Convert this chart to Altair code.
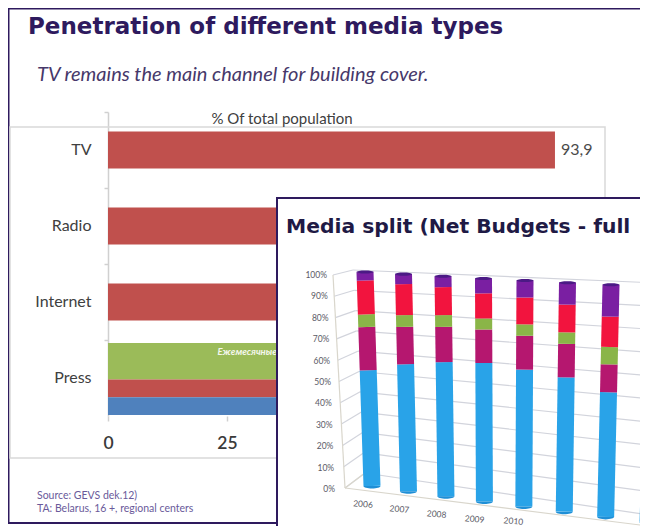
import altair as alt
import pandas as pd

# ---- left chart values (share of population, %)
media = ["TV", "Radio", "Internet", "Press"]
reach_rows = ["TV", "Radio", "Internet"]
reach_values = [93.9, 62.0, 47.0]
reach_labels = ["93,9"]
press_top = ["Ежемесячные"]
press_top_values = [45.0]
press_low = ["Monthly", "Daily"]
press_low_values = [42.0, 38.0]
x_ticks = [0, 25, 50, 75, 100]

# ---- overlay chart values (media split, %)
years = ["2006", "2007", "2008", "2009", "2010", "2011", "2012", "2013"]
split_tv = [54.1, 58.5, 61.0, 62.1, 60.6, 58.7, 53.7, 50.6]
split_press = [20.2, 17.2, 16.0, 15.0, 15.0, 14.6, 12.0, 11.1]
split_radio = [5.9, 5.4, 5.3, 4.9, 5.0, 5.0, 7.5, 6.0]
split_outdoor = [15.8, 14.3, 12.8, 11.3, 11.9, 12.1, 13.1, 16.1]
split_internet = [4.0, 4.6, 4.9, 6.7, 7.5, 9.6, 13.7, 16.2]
levels = [0, 10, 20, 30, 40, 50, 60, 70, 80, 90, 100]

series = {"TV": split_tv, "Press": split_press, "Radio": split_radio,
          "Outdoor": split_outdoor, "Internet": split_internet}
series_colors = ["#29a3e8", "#b5176f", "#8ab548", "#f2143e", "#7a1fa2"]

DARK = "#2e1a5e"
W, H = 632, 518
FONT = "Lato"
HEAD = "DejaVu Sans"

# page-pixel scale used for the page furniture and the 3-D projection
PX = alt.Scale(domain=[8, 8 + W], range=[0, W])
PY = alt.Scale(domain=[8, 8 + H], range=[0, H])
X_PCT = alt.Scale(domain=[0, 100], range=[100, 576])
Y_BAND = alt.Scale(domain=media, range=[104, 408], paddingInner=0, paddingOuter=0)


# perspective of the 3-D plot: where year i and percent p land on the page
def proj(i, p):
    xt, xb = 365 + 38 * i + 0.5 * i * i, 372 + 36 * i + 0.49 * i * i
    yt, yb = 272 + 2.14 * i, 486 + 5.14 * i
    return xb + (xt - xb) * p / 100, yb + (yt - yb) * p / 100


def box(x0, x1, y0, y1, **kw):
    return alt.Chart(pd.DataFrame({"a": [0]})).mark_rect(**kw).encode(
        x=alt.value(x0 - 8), x2=alt.value(x1 - 8), y=alt.value(y0 - 8), y2=alt.value(y1 - 8))


def label(text, x, y, **kw):
    return alt.Chart(pd.DataFrame({"t": [text]})).mark_text(baseline="middle", **kw).encode(
        x=alt.value(x - 8), y=alt.value(y - 8), text="t:N")


# ---- left panel
frame = box(8.5, 720, 8.5, 523, fill="transparent", stroke=DARK, strokeWidth=2)
inner = box(10, 605, 127, 458, fill="transparent", stroke="#d9d9d9", strokeWidth=1.5)

bars = alt.Chart(pd.DataFrame({"m": reach_rows, "v": reach_values})).mark_bar(
    size=37, color="#c0504d").encode(
    x=alt.X("v:Q", scale=X_PCT, title=None,
            axis=alt.Axis(values=x_ticks, orient="bottom", offset=-110, domain=False, grid=False,
                          tickColor="#d0d0d0", tickSize=5, tickWidth=1.5, labelPadding=13,
                          labelFont=FONT, labelFontSize=17.5, labelFontWeight=600,
                          labelColor="#3a3a3a", labelFlush=False, labelOverlap=False)),
    y=alt.Y("m:N", scale=Y_BAND, title=None, sort=media,
            axis=alt.Axis(orient="left", offset=-100, grid=False, domainColor="#d0d0d0",
                          domainWidth=1.5, tickColor="#d0d0d0", tickWidth=1.5, tickSize=4,
                          bandPosition=0, labelPadding=13, labelFont=FONT, labelFontSize=16,
                          labelColor="#404040", labelAngle=0)))

value_label = alt.Chart(pd.DataFrame({"m": reach_rows[:1], "v": reach_values[:1], "t": reach_labels})).mark_text(
    align="left", dx=6, font=FONT, fontSize=16, color="#4a4a4a").encode(
    x=alt.X("v:Q", scale=X_PCT, axis=None),
    y=alt.Y("m:N", scale=Y_BAND, axis=None, sort=media),
    text="t:N")

press_green = alt.Chart(pd.DataFrame({"s": press_top, "v": press_top_values})).mark_bar(color="#9bbb59").encode(
    x=alt.X("v:Q", scale=X_PCT, axis=None),
    y=alt.Y("s:N", axis=None, scale=alt.Scale(domain=press_top, range=[335, 371.5], paddingInner=0, paddingOuter=0)))
press_rest = alt.Chart(pd.DataFrame({"s": press_low, "v": press_low_values})).mark_bar().encode(
    x=alt.X("v:Q", scale=X_PCT, axis=None),
    y=alt.Y("s:N", axis=None, scale=alt.Scale(domain=press_low, range=[371.5, 407], paddingInner=0, paddingOuter=0)),
    color=alt.Color("s:N", legend=None, scale=alt.Scale(domain=press_low, range=["#c0504d", "#4f81bd"])))

press_name = alt.Chart(pd.DataFrame({"t": press_top, "v": [23.0]})).mark_text(
    align="left", font=FONT, fontSize=9.5, fontStyle="italic", fontWeight="bold", color="#f4f7ec").encode(
    x=alt.X("v:Q", scale=X_PCT, axis=None), y=alt.value(344), text="t:N")

# ---- overlay panel
overlay = box(277, 720, 198, 600, fill="white", stroke=DARK, strokeWidth=2)

grid_rows = []
for p in levels:
    t = p / 100
    y_right = lambda x: (475 + 0.15 * (x - 383)) + ((272 + 0.04 * (x - 383)) - (475 + 0.15 * (x - 383))) * t
    fx, fy = 345 - 12 * t, 488 - 213 * t
    bx, by = 365 - 12 * t, 473 - 203 * t
    grid_rows.append(dict(x=fx, y=fy, x2=bx, y2=by, p=p, tx=335 - 8 * t, ty=489 - 214 * t, t=f"{p}%"))
    grid_rows.append(dict(x=bx, y=by, x2=660, y2=y_right(660), p=p, tx=None, ty=None, t=None))
grid_df = pd.DataFrame(grid_rows)


def rule_enc(chart):
    return chart.encode(
        x=alt.X("x:Q", scale=PX, axis=None), x2="x2:Q",
        y=alt.Y("y:Q", scale=PY, axis=None), y2="y2:Q")


grid = rule_enc(alt.Chart(grid_df).mark_rule(color="#d2d4dc", strokeWidth=1.2))
edges = rule_enc(alt.Chart(pd.DataFrame({
    "x": [333, 345, 345], "x2": [345, 648, 365], "y": [275, 488, 488], "y2": [488, 526, 473]})).mark_rule(
    color="#d9d6cc", strokeWidth=1.2))

ticks_df = pd.DataFrame([r for r in grid_rows if r["t"]])
tick_text = alt.Chart(ticks_df).mark_text(
    align="right", baseline="middle", font=FONT, fontSize=8.5, color="#5a5a66").encode(
    x=alt.X("tx:Q", scale=PX, axis=None), y=alt.Y("ty:Q", scale=PY, axis=None), text="t:N")

seg_rows, base_rows, cap_rows, year_rows = [], [], [], []
for i, yr in enumerate(years):
    lo = 0.0
    for name, vals in series.items():
        hi = lo + vals[i]
        x0, y0 = proj(i, lo)
        x1, y1 = proj(i, hi)
        seg_rows.append(dict(year=yr, s=name, x=x0, y=y0, x2=x1, y2=y1))
        lo = hi
    bx, by = proj(i, 0)
    tx, ty = proj(i, 100)
    base_rows.append(dict(x=bx, y=by))
    cap_rows.append(dict(x=tx, y=ty))
    if i < 5:
        year_rows.append(dict(x=363 + 36 * i + 0.4 * i * i, y=min(504 + 5 * i, 521), t=yr))

columns = rule_enc(alt.Chart(pd.DataFrame(seg_rows)).mark_rule(strokeWidth=17)).encode(
    color=alt.Color("s:N", legend=None,
                    scale=alt.Scale(domain=list(series), range=series_colors)))


def caps(rows, shape, color):
    return alt.Chart(pd.DataFrame(rows)).mark_point(
        shape=shape, filled=True, opacity=1, size=289, color=color).encode(
        x=alt.X("x:Q", scale=PX, axis=None), y=alt.Y("y:Q", scale=PY, axis=None))


bases = caps(base_rows, "M -1 0 A 1 0.3 0 0 0 1 0 Z", "#1f8fd6")
tops = caps(cap_rows, "M -1 0 A 1 0.18 0 1 0 1 0 A 1 0.18 0 1 0 -1 0 Z", "#4b1a85")

year_text = alt.Chart(pd.DataFrame(year_rows)).mark_text(
    font=FONT, fontSize=8.5, angle=5, color="#5a5a66").encode(
    x=alt.X("x:Q", scale=PX, axis=None), y=alt.Y("y:Q", scale=PY, axis=None), text="t:N")

chart = alt.layer(
    frame, inner, bars, press_green, press_rest, press_name, value_label,
    label("Penetration of different media types", 28, 27, align="left", font=HEAD,
          fontSize=23, fontWeight="bold", color=DARK),
    label("TV remains the main channel for building cover.", 37, 75, align="left", font=FONT,
          fontSize=20, fontStyle="italic", color="#46386a"),
    label("% Of total population", 282, 119, font=FONT, fontSize=15, color="#404040"),
    label("Source: GEVS dek.12)", 37, 496, align="left", font=FONT, fontSize=10.5, color="#6a5a9a"),
    label("TA: Belarus, 16 +, regional centers", 37, 509, align="left", font=FONT, fontSize=10.5, color="#6a5a9a"),
    overlay,
    label("Media split (Net Budgets - full", 286, 227, align="left", font=HEAD,
          fontSize=20.3, fontWeight="bold", color="#1f1a45"),
    grid, edges, tick_text, columns, bases, tops, year_text,
).resolve_scale(x="independent", y="independent", color="independent").properties(
    width=W, height=H, padding=0, autosize=alt.AutoSizeParams(type="none"),
    background="white"
).configure_view(stroke=None)

chart.save("out.html", embed_options={"renderer": "svg", "actions": False})
